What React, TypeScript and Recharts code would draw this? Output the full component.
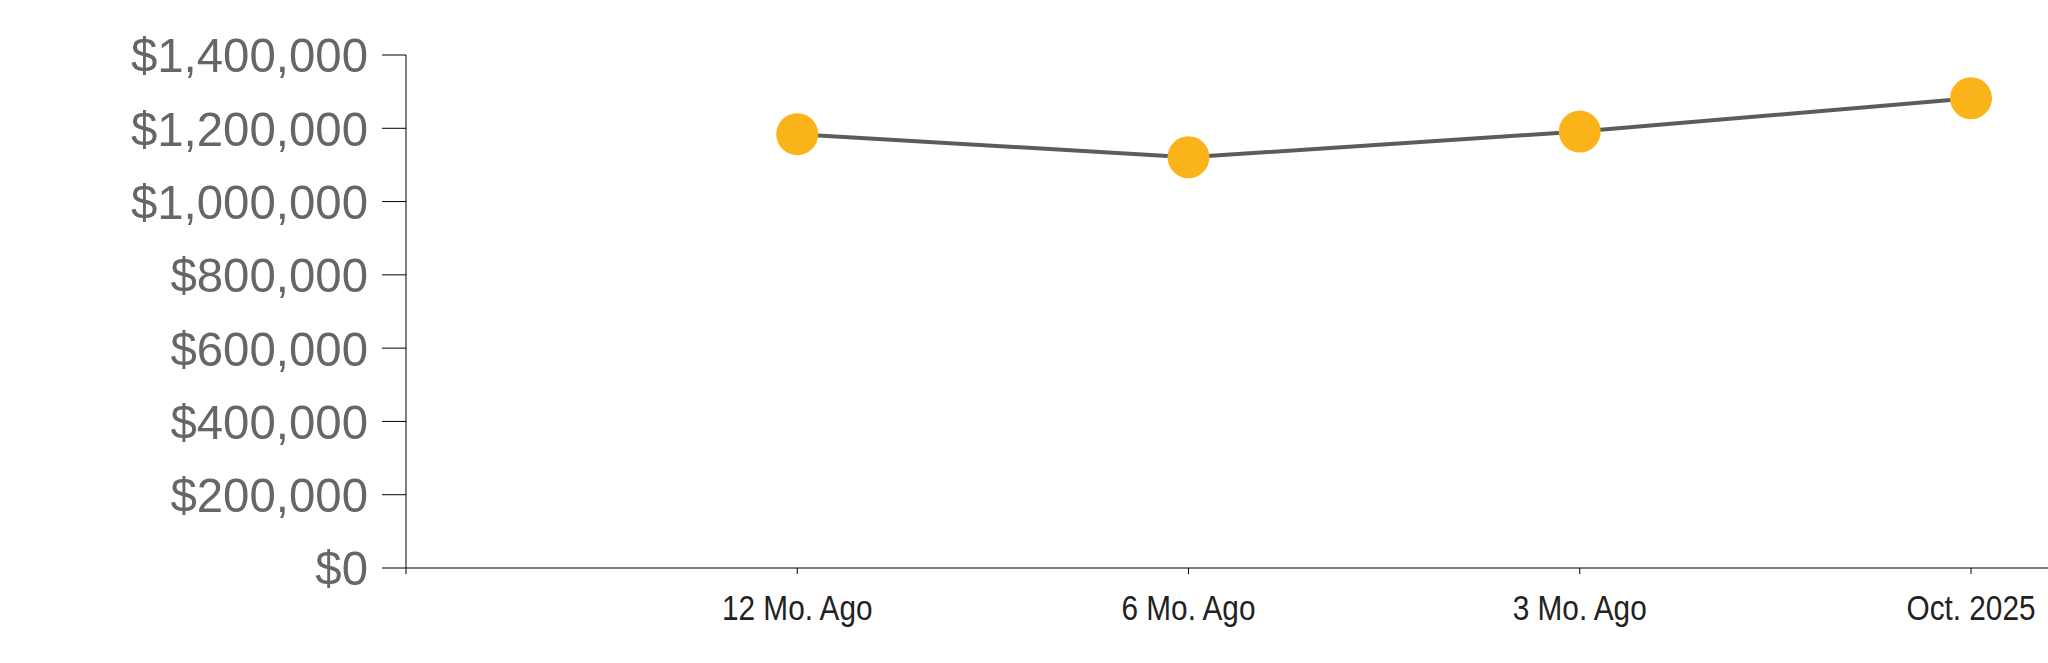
import { LineChart, Line, XAxis, YAxis } from "recharts";

// x positions: first slot is empty (sits on the y axis)
const categories = ["", "12 Mo. Ago", "6 Mo. Ago", "3 Mo. Ago", "Oct. 2025"];
const medianPrice = [null, 1184000, 1121000, 1191000, 1282000];
const yTicks = [0, 200000, 400000, 600000, 800000, 1000000, 1200000, 1400000];

const data = categories.map((label, i) => ({ label, value: medianPrice[i] }));

const money = (v: number) => `$${v.toLocaleString("en-US")}`;

// the reference uses a narrow sans for the month labels; squeeze Liberation Sans instead
function NarrowTick({ x, y, payload }: any) {
  return (
    <text
      x={x}
      y={y}
      dy="0.71em"
      textAnchor="middle"
      fill="#222"
      fontSize={35}
      fontFamily="'Liberation Sans', Arial, sans-serif"
      transform={`translate(${x} 0) scale(0.85 1) translate(${-x} 0)`}
    >
      {payload.value}
    </text>
  );
}

// price labels are a touch narrower than Liberation Sans too
function PriceTick({ x, y, payload }: any) {
  return (
    <text
      x={x}
      y={y}
      dy="0.355em"
      textAnchor="end"
      fill="#666"
      fontSize={49}
      fontFamily="'Liberation Sans', Arial, sans-serif"
      transform={`translate(${x} 0) scale(0.967 1) translate(${-x} 0)`}
    >
      {money(payload.value)}
    </text>
  );
}

export default function App() {
  return (
    <div style={{ position: "absolute", left: 0, top: 0 }}>
      <style>{`body{margin:0}`}</style>
      <LineChart
        width={2048}
        height={663}
        data={data}
        margin={{ top: 55, right: 0, bottom: 34, left: 0 }}
      >
        <XAxis
          dataKey="label"
          interval={0}
          padding={{ left: 0, right: 77 }}
          stroke="#000"
          tickSize={6}
          tickMargin={21}
          height={61}
          tick={<NarrowTick />}
        />
        <YAxis
          width={406}
          domain={[0, 1400000]}
          ticks={yTicks}
          interval={0}
          stroke="#000"
          tickSize={24}
          tickMargin={14}
          tick={<PriceTick />}
        />
        <Line
          dataKey="value"
          type="linear"
          stroke="#5c5c5c"
          strokeWidth={4}
          dot={{ r: 21, fill: "#fbb31a", stroke: "#fbb31a", strokeWidth: 0 }}
          activeDot={false}
          isAnimationActive={false}
        />
      </LineChart>
    </div>
  );
}
